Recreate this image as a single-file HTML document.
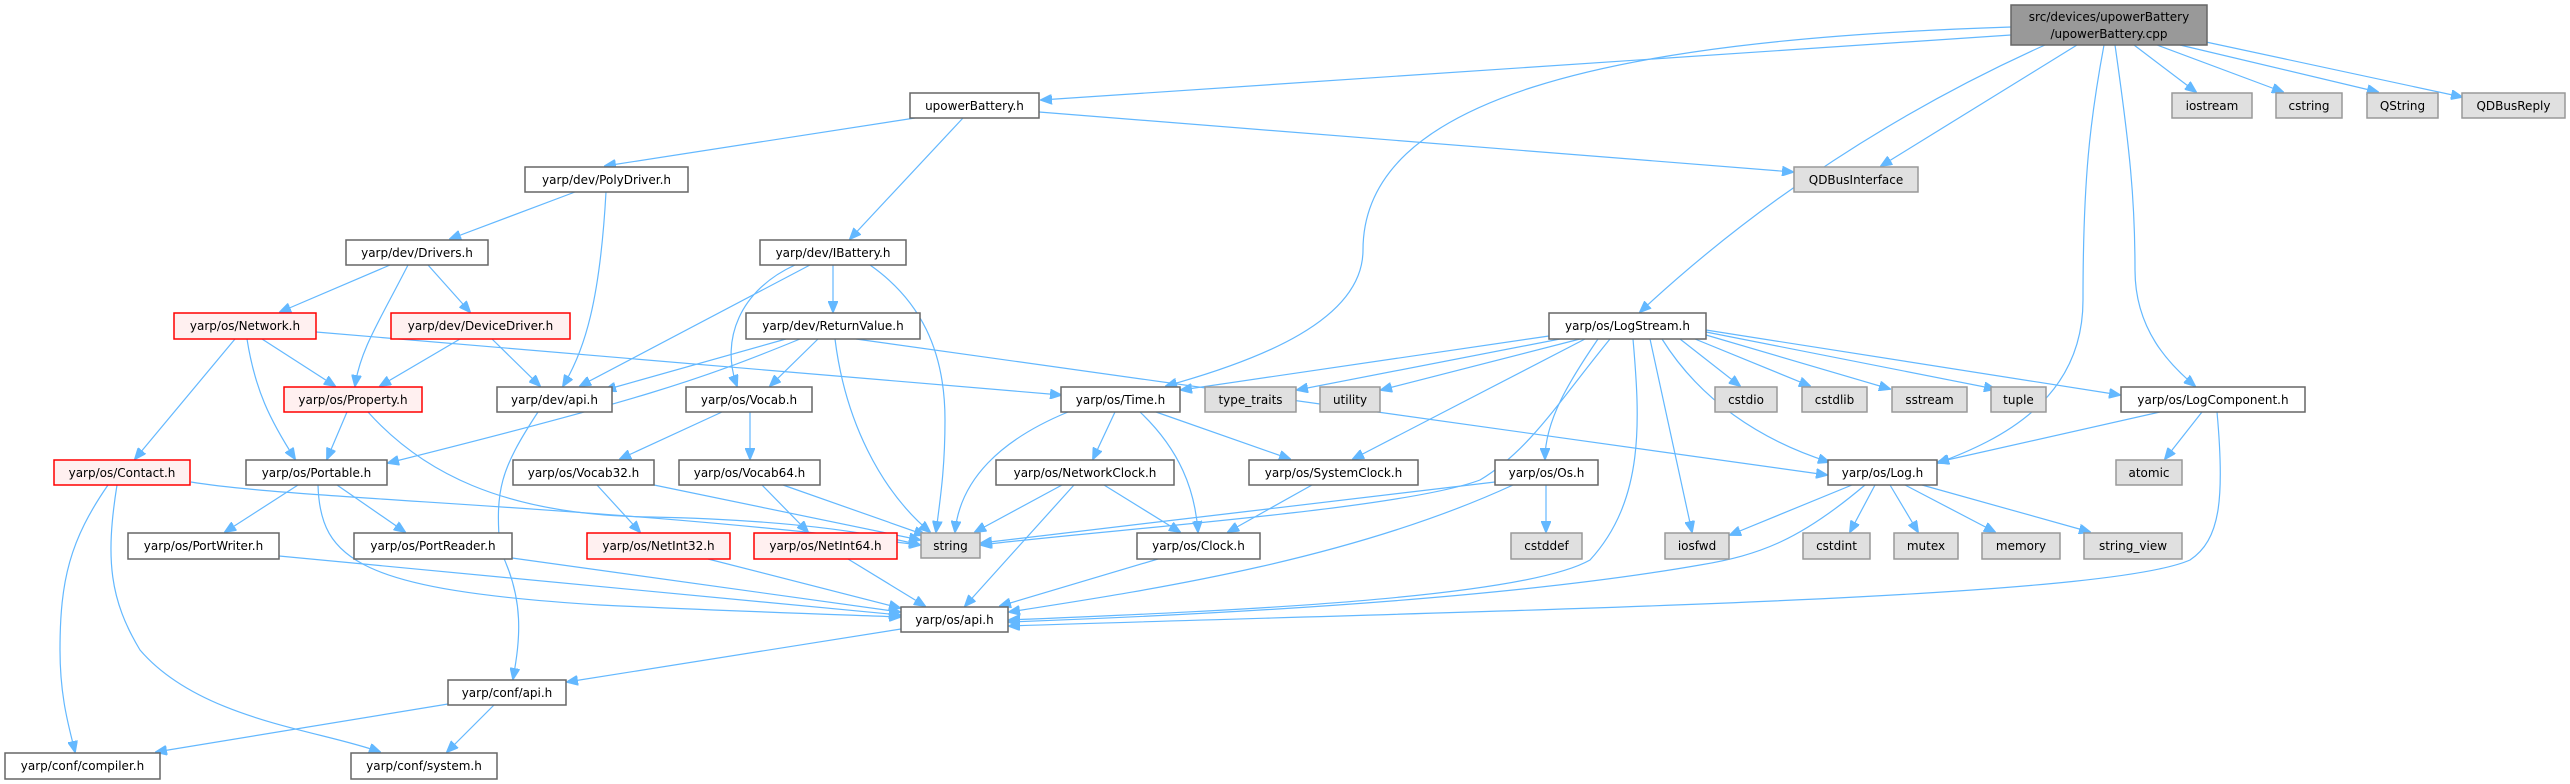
<!DOCTYPE html>
<html><head><meta charset="utf-8"><style>
html,body{margin:0;padding:0;background:#fff;}
svg{display:block;}
text{font-family:"DejaVu Sans","Liberation Sans",sans-serif;font-size:12px;fill:#000;}
.n rect{fill:#fff;stroke:#666;stroke-width:1.5}
.g rect{fill:#e0e0e0;stroke:#999;stroke-width:1.5}
.r rect{fill:#fff0f0;stroke:#f00;stroke-width:1.5}
.root rect{fill:#999;stroke:#666;stroke-width:1.5}
path{fill:none;stroke:#63b8ff;stroke-width:1.2;marker-end:url(#a)}
</style></head><body>
<svg width="2570" height="784" viewBox="0 0 2570 784" xmlns="http://www.w3.org/2000/svg">
<defs><marker id="a" markerUnits="userSpaceOnUse" markerWidth="12" markerHeight="10" refX="11" refY="5" orient="auto"><path d="M0,0 L12,5 L0,10 z" style="fill:#63b8ff;stroke:#63b8ff;stroke-width:1;marker-end:none"/></marker></defs>

<!-- edges -->
<path d="M2011,35 L1041,100"/>
<path d="M2011,27 C1600,40 1363,100 1363,250 C1363,320 1260,360 1166,386"/>
<path d="M2077,45 L1881,166"/>
<path d="M2045,45 C1900,110 1760,200 1640,312"/>
<path d="M2104,45 C2090,120 2083,180 2083,300 C2083,400 2000,440 1938,463"/>
<path d="M2115,45 C2130,150 2135,200 2135,270 C2135,330 2170,365 2195,386"/>
<path d="M2134,45 L2196,92"/>
<path d="M2157,45 L2283,92"/>
<path d="M2180,45 L2378,92"/>
<path d="M2206,42 L2462,97"/>

<path d="M915,118 L605,166"/>
<path d="M963,118 L850,239"/>
<path d="M1039,112 L1793,172"/>

<path d="M575,192 L450,239"/>
<path d="M606,192 C600,300 585,350 563,386"/>

<path d="M390,265 L280,312"/>
<path d="M408,265 C380,320 360,350 355,386"/>
<path d="M428,265 L470,312"/>

<path d="M833,265 L833,312"/>
<path d="M810,265 L580,386"/>
<path d="M795,265 C740,290 720,340 737,386"/>
<path d="M870,265 C920,300 945,350 945,420 C945,470 940,500 936,532"/>

<path d="M316,332 L1061,395"/>
<path d="M262,339 L335,386"/>
<path d="M247,339 C255,390 270,420 295,459"/>
<path d="M235,339 L135,459"/>

<path d="M460,339 L380,386"/>
<path d="M492,339 L540,386"/>

<path d="M786,339 L605,390"/>
<path d="M800,339 C700,380 640,400 388,463"/>
<path d="M818,339 L770,386"/>
<path d="M835,339 C845,420 880,490 930,532"/>
<path d="M856,339 L1827,475"/>

<path d="M347,412 L327,459"/>
<path d="M368,412 C420,470 500,515 650,517 C800,520 880,535 920,545"/>

<path d="M538,412 C500,470 495,490 500,550 C525,600 520,640 513,679"/>

<path d="M722,412 L620,459"/>
<path d="M750,412 L750,459"/>

<path d="M191,482 C300,500 600,505 920,545"/>
<path d="M108,485 C70,540 60,580 60,650 C60,700 70,730 75,752"/>
<path d="M117,485 C105,560 110,600 140,650 C200,720 320,730 380,752"/>

<path d="M298,485 L225,532"/>
<path d="M337,485 L405,532"/>
<path d="M318,485 C320,560 360,590 600,605 C750,612 850,615 900,617"/>

<path d="M654,485 L920,540"/>
<path d="M597,485 L640,532"/>
<path d="M783,485 L925,535"/>
<path d="M762,485 L808,532"/>

<path d="M279,556 L900,615"/>
<path d="M512,558 L900,612"/>
<path d="M708,559 L900,608"/>
<path d="M848,559 L925,606"/>
<path d="M448,704 L156,752"/>
<path d="M494,705 L447,752"/>
<path d="M901,629 L567,682"/>

<path d="M1549,336 L1181,390"/>
<path d="M1560,339 L1297,390"/>
<path d="M1580,339 L1381,390"/>
<path d="M1610,339 C1560,400 1530,450 1480,480 C1400,510 1100,530 981,545"/>
<path d="M1585,339 L1353,459"/>
<path d="M1598,339 C1570,380 1545,420 1545,459"/>
<path d="M1633,339 C1640,420 1645,500 1590,560 C1520,600 1200,612 1009,620"/>
<path d="M1650,339 L1692,532"/>
<path d="M1662,339 C1700,400 1760,440 1829,462"/>
<path d="M1680,339 L1740,386"/>
<path d="M1695,339 L1810,386"/>
<path d="M1706,335 L1890,389"/>
<path d="M1706,332 L1995,389"/>
<path d="M1706,330 L2120,395"/>

<path d="M1068,412 C1000,440 960,480 955,532"/>
<path d="M1115,412 L1093,459"/>
<path d="M1140,412 C1180,450 1195,490 1198,532"/>
<path d="M1156,412 L1290,459"/>

<path d="M1062,485 L975,532"/>
<path d="M1074,485 L965,606"/>
<path d="M1104,485 L1180,532"/>
<path d="M1312,485 L1228,532"/>
<path d="M1495,482 L981,543"/>
<path d="M1513,485 C1350,560 1150,590 1009,612"/>
<path d="M1546,485 L1546,532"/>
<path d="M1158,559 L1000,606"/>

<path d="M2160,412 L1938,462"/>
<path d="M2202,412 L2165,459"/>
<path d="M2217,412 C2225,500 2220,540 2190,560 C2100,600 1500,610 1009,626"/>

<path d="M1852,485 L1730,535"/>
<path d="M1865,485 C1800,540 1760,555 1700,565 C1500,600 1200,615 1009,622"/>
<path d="M1875,485 L1850,532"/>
<path d="M1890,485 L1918,532"/>
<path d="M1905,485 L1995,532"/>
<path d="M1922,485 L2090,532"/>

<!-- nodes -->
<g class="root"><rect x="2011" y="5" width="196" height="40"/><text x="2109" y="21" text-anchor="middle">src/devices/upowerBattery</text><text x="2109" y="38" text-anchor="middle">/upowerBattery.cpp</text></g>

<g class="n"><rect x="910" y="93" width="129" height="25"/><text x="974.5" y="110" text-anchor="middle">upowerBattery.h</text></g>
<g class="g"><rect x="2172" y="93" width="80" height="25"/><text x="2212" y="110" text-anchor="middle">iostream</text></g>
<g class="g"><rect x="2276" y="93" width="66" height="25"/><text x="2309" y="110" text-anchor="middle">cstring</text></g>
<g class="g"><rect x="2367" y="93" width="71" height="25"/><text x="2402.5" y="110" text-anchor="middle">QString</text></g>
<g class="g"><rect x="2462" y="93" width="103" height="25"/><text x="2513.5" y="110" text-anchor="middle">QDBusReply</text></g>

<g class="n"><rect x="525" y="167" width="163" height="25"/><text x="606.5" y="184" text-anchor="middle">yarp/dev/PolyDriver.h</text></g>
<g class="g"><rect x="1794" y="167" width="124" height="25"/><text x="1856" y="184" text-anchor="middle">QDBusInterface</text></g>

<g class="n"><rect x="346" y="240" width="142" height="25"/><text x="417" y="257" text-anchor="middle">yarp/dev/Drivers.h</text></g>
<g class="n"><rect x="760" y="240" width="146" height="25"/><text x="833" y="257" text-anchor="middle">yarp/dev/IBattery.h</text></g>

<g class="r"><rect x="174" y="313" width="142" height="26"/><text x="245" y="330" text-anchor="middle">yarp/os/Network.h</text></g>
<g class="r"><rect x="391" y="313" width="179" height="26"/><text x="480.5" y="330" text-anchor="middle">yarp/dev/DeviceDriver.h</text></g>
<g class="n"><rect x="746" y="313" width="174" height="26"/><text x="833" y="330" text-anchor="middle">yarp/dev/ReturnValue.h</text></g>
<g class="n"><rect x="1549" y="313" width="157" height="26"/><text x="1627.5" y="330" text-anchor="middle">yarp/os/LogStream.h</text></g>

<g class="r"><rect x="284" y="387" width="138" height="25"/><text x="353" y="404" text-anchor="middle">yarp/os/Property.h</text></g>
<g class="n"><rect x="497" y="387" width="115" height="25"/><text x="554.5" y="404" text-anchor="middle">yarp/dev/api.h</text></g>
<g class="n"><rect x="686" y="387" width="126" height="25"/><text x="749" y="404" text-anchor="middle">yarp/os/Vocab.h</text></g>
<g class="n"><rect x="1061" y="387" width="119" height="25"/><text x="1120.5" y="404" text-anchor="middle">yarp/os/Time.h</text></g>
<g class="g"><rect x="1205" y="387" width="91" height="25"/><text x="1250.5" y="404" text-anchor="middle">type_traits</text></g>
<g class="g"><rect x="1320" y="387" width="60" height="25"/><text x="1350" y="404" text-anchor="middle">utility</text></g>
<g class="g"><rect x="1715" y="387" width="62" height="25"/><text x="1746" y="404" text-anchor="middle">cstdio</text></g>
<g class="g"><rect x="1802" y="387" width="65" height="25"/><text x="1834.5" y="404" text-anchor="middle">cstdlib</text></g>
<g class="g"><rect x="1892" y="387" width="75" height="25"/><text x="1929.5" y="404" text-anchor="middle">sstream</text></g>
<g class="g"><rect x="1991" y="387" width="55" height="25"/><text x="2018.5" y="404" text-anchor="middle">tuple</text></g>
<g class="n"><rect x="2121" y="387" width="184" height="25"/><text x="2213" y="404" text-anchor="middle">yarp/os/LogComponent.h</text></g>

<g class="r"><rect x="54" y="460" width="136" height="25"/><text x="122" y="477" text-anchor="middle">yarp/os/Contact.h</text></g>
<g class="n"><rect x="246" y="460" width="141" height="25"/><text x="316.5" y="477" text-anchor="middle">yarp/os/Portable.h</text></g>
<g class="n"><rect x="513" y="460" width="141" height="25"/><text x="583.5" y="477" text-anchor="middle">yarp/os/Vocab32.h</text></g>
<g class="n"><rect x="679" y="460" width="141" height="25"/><text x="749.5" y="477" text-anchor="middle">yarp/os/Vocab64.h</text></g>
<g class="n"><rect x="996" y="460" width="178" height="25"/><text x="1085" y="477" text-anchor="middle">yarp/os/NetworkClock.h</text></g>
<g class="n"><rect x="1249" y="460" width="169" height="25"/><text x="1333.5" y="477" text-anchor="middle">yarp/os/SystemClock.h</text></g>
<g class="n"><rect x="1495" y="460" width="103" height="25"/><text x="1546.5" y="477" text-anchor="middle">yarp/os/Os.h</text></g>
<g class="n"><rect x="1828" y="460" width="109" height="25"/><text x="1882.5" y="477" text-anchor="middle">yarp/os/Log.h</text></g>
<g class="g"><rect x="2116" y="460" width="66" height="25"/><text x="2149" y="477" text-anchor="middle">atomic</text></g>

<g class="n"><rect x="128" y="533" width="151" height="26"/><text x="203.5" y="550" text-anchor="middle">yarp/os/PortWriter.h</text></g>
<g class="n"><rect x="354" y="533" width="158" height="26"/><text x="433" y="550" text-anchor="middle">yarp/os/PortReader.h</text></g>
<g class="r"><rect x="587" y="533" width="143" height="26"/><text x="658.5" y="550" text-anchor="middle">yarp/os/NetInt32.h</text></g>
<g class="r"><rect x="754" y="533" width="143" height="26"/><text x="825.5" y="550" text-anchor="middle">yarp/os/NetInt64.h</text></g>
<g class="g"><rect x="921" y="533" width="59" height="25"/><text x="950.5" y="550" text-anchor="middle">string</text></g>
<g class="n"><rect x="1137" y="533" width="123" height="26"/><text x="1198.5" y="550" text-anchor="middle">yarp/os/Clock.h</text></g>
<g class="g"><rect x="1511" y="533" width="71" height="26"/><text x="1546.5" y="550" text-anchor="middle">cstddef</text></g>
<g class="g"><rect x="1665" y="533" width="64" height="26"/><text x="1697" y="550" text-anchor="middle">iosfwd</text></g>
<g class="g"><rect x="1803" y="533" width="67" height="26"/><text x="1836.5" y="550" text-anchor="middle">cstdint</text></g>
<g class="g"><rect x="1894" y="533" width="64" height="26"/><text x="1926" y="550" text-anchor="middle">mutex</text></g>
<g class="g"><rect x="1982" y="533" width="78" height="26"/><text x="2021" y="550" text-anchor="middle">memory</text></g>
<g class="g"><rect x="2084" y="533" width="98" height="26"/><text x="2133" y="550" text-anchor="middle">string_view</text></g>

<g class="n"><rect x="901" y="607" width="107" height="25"/><text x="954.5" y="624" text-anchor="middle">yarp/os/api.h</text></g>
<g class="n"><rect x="448" y="680" width="118" height="25"/><text x="507" y="697" text-anchor="middle">yarp/conf/api.h</text></g>
<g class="n"><rect x="5" y="753" width="155" height="26"/><text x="82.5" y="770" text-anchor="middle">yarp/conf/compiler.h</text></g>
<g class="n"><rect x="351" y="753" width="146" height="26"/><text x="424" y="770" text-anchor="middle">yarp/conf/system.h</text></g>
</svg>
</body></html>
